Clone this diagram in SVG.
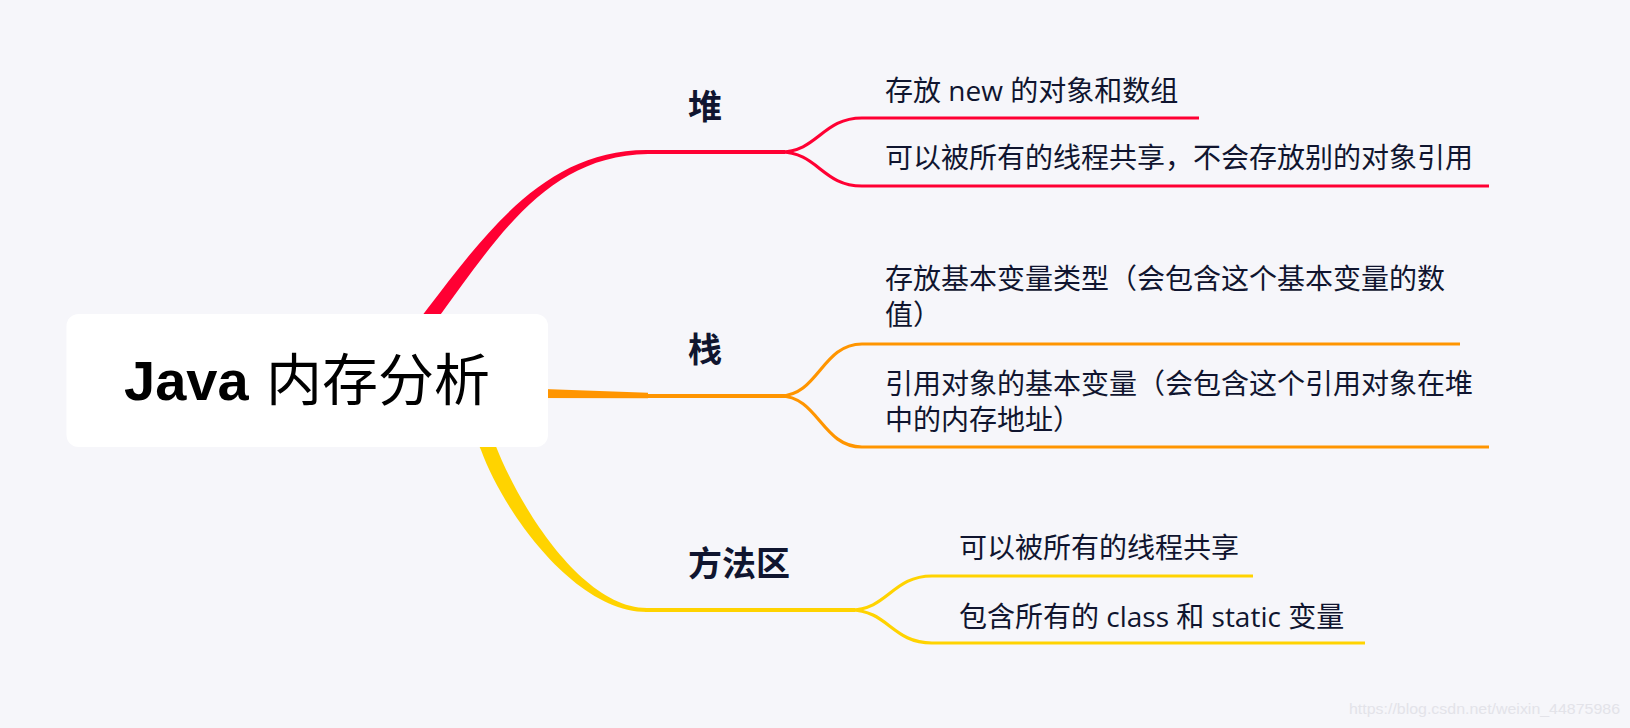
<svg xmlns="http://www.w3.org/2000/svg" width="1630" height="728" viewBox="0 0 1630 728">
<style>
.bg{fill:#F6F6FA}
.t{font-family:"Open Sans","Noto Sans CJK SC",sans-serif;font-size:28px;fill:#10152F}
.lbl{font-family:"Noto Sans CJK SC",sans-serif;font-size:34px;font-weight:bold;fill:#10152F}
.br{fill:none;stroke-width:3.2;stroke-linecap:butt}
.mn{fill:none;stroke-width:4}
.red{stroke:#FF0033}
.org{stroke:#FF9500}
.yel{stroke:#FFD300}
.wm{font-family:"Liberation Sans",Arial,sans-serif;font-size:15px;fill:#E3E3E9}
</style>
<rect class="bg" x="0" y="0" width="1630" height="728"/>
<g id="connectors">
  <!-- red trunk (tapered) -->
  <path fill="#FF0033" d="M391 357 L427.4 308.8 C488 229.4 548 149 648 150 L648 154 C548 155.5 497.8 236.6 438.6 317.2 L402.6 365 Z"/>
  <path class="mn red" d="M646 152 H785"/>
  <path class="br red" d="M780 152 C818 152 822 118 862 118 H1199"/>
  <path class="br red" d="M780 152 C818 152 822 186 862 186 H1489"/>
  <!-- orange trunk -->
  <path fill="#FF9500" d="M530 388.5 L648 392.7 L648 398.3 L530 398 Z"/>
  <path class="mn org" d="M646 396 H785"/>
  <path class="br org" d="M780 396 C818 396 822 344 862 344 H1460"/>
  <path class="br org" d="M780 396 C818 396 822 447 862 447 H1489"/>
  <!-- yellow trunk (tapered) -->
  <path fill="#FFD300" d="M456 395 L481 450 C505 515 576 612 647 612 L647 608 C584 608 521 511 495 444 L470 389 Z"/>
  <path class="mn yel" d="M645 610 H855"/>
  <path class="br yel" d="M850 610 C888 610 892 576 932 576 H1253"/>
  <path class="br yel" d="M850 610 C888 610 892 643 932 643 H1365"/>
</g>
<g id="node-root">
  <rect x="66.5" y="314" width="481.5" height="133" rx="12" ry="12" fill="#FFFFFF"/>
  <text x="124" y="400" font-size="56" fill="#000000" font-family="'Liberation Sans','Noto Sans CJK SC',sans-serif"><tspan font-weight="bold">Java</tspan><tspan x="266" font-family="'Noto Sans CJK SC',sans-serif">内存分析</tspan></text>
</g>
<g id="node-heap">
  <text class="lbl" x="688" y="119">堆</text>
</g>
<g id="node-heap-1"><text class="t" x="885" y="101">存放 new 的对象和数组</text></g>
<g id="node-heap-2"><text class="t" x="885" y="168">可以被所有的线程共享，不会存放别的对象引用</text></g>
<g id="node-stack">
  <text class="lbl" x="688" y="362">栈</text>
</g>
<g id="node-stack-1"><text class="t" x="885" y="289">存放基本变量类型（会包含这个基本变量的数</text><text class="t" x="885" y="325">值）</text></g>
<g id="node-stack-2"><text class="t" x="885" y="394">引用对象的基本变量（会包含这个引用对象在堆</text><text class="t" x="885" y="430">中的内存地址）</text></g>
<g id="node-method">
  <text class="lbl" x="688" y="576">方法区</text>
</g>
<g id="node-method-1"><text class="t" x="959" y="558">可以被所有的线程共享</text></g>
<g id="node-method-2"><text class="t" x="959" y="627">包含所有的 class 和 static 变量</text></g>
<text class="wm" x="1349" y="714" textLength="271" lengthAdjust="spacingAndGlyphs">https://blog.csdn.net/weixin_44875986</text>
</svg>
